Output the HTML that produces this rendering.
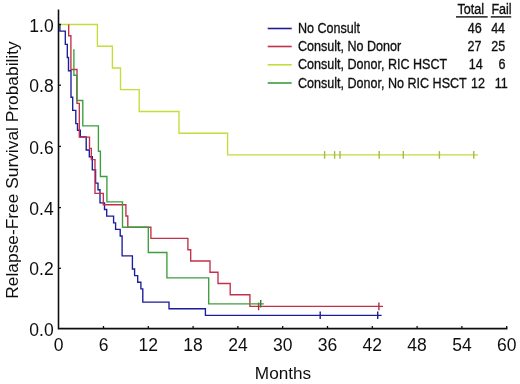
<!DOCTYPE html>
<html><head><meta charset="utf-8"><style>
html,body{margin:0;padding:0;background:#fff;}
svg{display:block;}
.t{font-family:"Liberation Sans", sans-serif;font-size:17.5px;fill:#111;}
.l{font-family:"Liberation Sans", sans-serif;font-size:15.5px;fill:#111;stroke:#111;stroke-width:0.35px;}
</style></head><body>
<svg width="520" height="384" viewBox="0 0 520 384" shape-rendering="geometricPrecision">
<defs><filter id="b" x="0" y="0" width="1" height="1"><feGaussianBlur stdDeviation="0.3"/></filter></defs>
<rect width="520" height="384" fill="#fff"/>
<g filter="url(#b)">
<path d="M58.5,24.5 H97.4 V46.2 H112.4 V68.0 H120.5 V89.6 H139.2 V111.5 H179.0 V133.2 H227.6 V154.9 H478" stroke="#c6dc3a" stroke-width="1.35" fill="none"/>
<path d="M324.6,151.1 V158.7" stroke="#a6b94c" stroke-width="1.4"/><path d="M334.6,151.1 V158.7" stroke="#a6b94c" stroke-width="1.4"/><path d="M340.0,151.1 V158.7" stroke="#a6b94c" stroke-width="1.4"/><path d="M379.2,151.1 V158.7" stroke="#a6b94c" stroke-width="1.4"/><path d="M403.3,151.1 V158.7" stroke="#a6b94c" stroke-width="1.4"/><path d="M439.4,151.1 V158.7" stroke="#a6b94c" stroke-width="1.4"/><path d="M473.8,151.1 V158.7" stroke="#a6b94c" stroke-width="1.4"/>
<path d="M59.9,24.5 H59.9 V31.1 H65.3 V44.3 H67.3 V57.5 H68.5 V70.7 H71.0 V97.2 H72.7 V110.4 H75.8 V123.6 H77.5 V130.2 H80.3 V136.8 H86.2 V150.0 H89.3 V156.7 H92.3 V169.9 H95.6 V183.1 H98.0 V189.7 H100.0 V202.9 H104.5 V209.5 H106.7 V216.1 H113.6 V222.8 H115.6 V229.4 H120.2 V236.0 H122.1 V255.8 H132.4 V269.0 H134.6 V275.6 H137.7 V282.2 H140.9 V288.8 H142.8 V302.1 H169.0 V308.7 H205.4 V315.3 H381.6" stroke="#1b1b9c" stroke-width="1.35" fill="none"/>
<path d="M320.2,311.5 V319.1" stroke="#1b1b9c" stroke-width="1.4"/><path d="M377.7,311.5 V319.1" stroke="#1b1b9c" stroke-width="1.4"/>
<path d="M68.7,24.5 H68.7 V35.7 H70.9 V69.5 H77.0 V103.3 H79.3 V137.1 H89.5 V148.4 H91.3 V159.6 H95.0 V193.4 H103.3 V204.7 H125.9 V216.0 H127.8 V227.2 H150.9 V238.4 H187.9 V249.7 H190.7 V261.0 H210.0 V272.2 H218.0 V283.5 H230.2 V294.7 H249.9 V306.4 H383" stroke="#c0304a" stroke-width="1.35" fill="none"/>
<path d="M258.6,302.6 V310.2" stroke="#a83040" stroke-width="1.4"/><path d="M378.9,302.6 V310.2" stroke="#a83040" stroke-width="1.4"/>
<path d="M73.9,49.3 V75.2 H76.7 V100.5 H82.8 V125.8 H98.4 V151.2 H100.4 V176.5 H106.9 V201.8 H122.5 V227.2 H148.3 V252.5 H166.9 V277.8 H208.7 V303.8 H263.8" stroke="#3c9e3c" stroke-width="1.35" fill="none"/>
<path d="M260.7,300.0 V307.6" stroke="#2f7f2f" stroke-width="1.4"/>
<path d="M58.5,9.5 V328.6 H507.4" stroke="#111" stroke-width="1.55" fill="none"/>
<path d="M58.5,24.4 H61" stroke="#111" stroke-width="1.3"/>
<path d="M58.5,85.2 H61" stroke="#111" stroke-width="1.3"/>
<path d="M58.5,146.4 H61" stroke="#111" stroke-width="1.3"/>
<path d="M58.5,207.6 H61" stroke="#111" stroke-width="1.3"/>
<path d="M58.5,268.3 H61" stroke="#111" stroke-width="1.3"/>
<path d="M103.50,328.6 V326" stroke="#111" stroke-width="1.3"/>
<path d="M148.30,328.6 V326" stroke="#111" stroke-width="1.3"/>
<path d="M193.10,328.6 V326" stroke="#111" stroke-width="1.3"/>
<path d="M237.90,328.6 V326" stroke="#111" stroke-width="1.3"/>
<path d="M282.70,328.6 V326" stroke="#111" stroke-width="1.3"/>
<path d="M327.50,328.6 V326" stroke="#111" stroke-width="1.3"/>
<path d="M372.30,328.6 V326" stroke="#111" stroke-width="1.3"/>
<path d="M417.10,328.6 V326" stroke="#111" stroke-width="1.3"/>
<path d="M461.90,328.6 V326" stroke="#111" stroke-width="1.3"/>
<path d="M506.70,328.6 V326" stroke="#111" stroke-width="1.3"/>
<text x="53.7" y="31.5" text-anchor="end" class="t">1.0</text>
<text x="53.7" y="92.3" text-anchor="end" class="t">0.8</text>
<text x="53.7" y="153.5" text-anchor="end" class="t">0.6</text>
<text x="53.7" y="214.7" text-anchor="end" class="t">0.4</text>
<text x="53.7" y="275.4" text-anchor="end" class="t">0.2</text>
<text x="53.7" y="335.7" text-anchor="end" class="t">0.0</text>
<text x="58.70" y="350.9" text-anchor="middle" class="t">0</text>
<text x="103.50" y="350.9" text-anchor="middle" class="t">6</text>
<text x="148.30" y="350.9" text-anchor="middle" class="t">12</text>
<text x="193.10" y="350.9" text-anchor="middle" class="t">18</text>
<text x="237.90" y="350.9" text-anchor="middle" class="t">24</text>
<text x="282.70" y="350.9" text-anchor="middle" class="t">30</text>
<text x="327.50" y="350.9" text-anchor="middle" class="t">36</text>
<text x="372.30" y="350.9" text-anchor="middle" class="t">42</text>
<text x="417.10" y="350.9" text-anchor="middle" class="t">48</text>
<text x="461.90" y="350.9" text-anchor="middle" class="t">54</text>
<text x="506.70" y="350.9" text-anchor="middle" class="t">60</text>
<text x="283" y="379.2" text-anchor="middle" class="t" style="font-size:17.2px">Months</text>
<text transform="translate(18.3,170) rotate(-90)" text-anchor="middle" class="t" style="font-size:17.35px">Relapse-Free Survival Probability</text>
<path d="M267.7,28.5 H291.7" stroke="#1b1b9c" stroke-width="1.6"/>
<text transform="translate(298,33.1) scale(0.81,1)" class="l">No Consult</text>
<path d="M267.7,46.5 H291.7" stroke="#c0304a" stroke-width="1.6"/>
<text transform="translate(298,51.1) scale(0.81,1)" class="l">Consult, No Donor</text>
<path d="M267.7,64.8 H291.7" stroke="#c6dc3a" stroke-width="1.6"/>
<text transform="translate(298,69.3) scale(0.81,1)" class="l">Consult, Donor, RIC HSCT</text>
<path d="M267.7,83.0 H291.7" stroke="#3c9e3c" stroke-width="1.6"/>
<text transform="translate(298,87.6) scale(0.81,1)" class="l">Consult, Donor, No RIC HSCT</text>
<text transform="translate(457.6,14.4) scale(0.81,1)" class="l">Total</text>
<text transform="translate(491.4,14.4) scale(0.81,1)" class="l">Fail</text>
<rect x="456" y="16.2" width="31.7" height="1.4" fill="#111"/>
<rect x="490.8" y="16.2" width="20.4" height="1.4" fill="#111"/>
<text transform="translate(481.7,33.1) scale(0.81,1)" text-anchor="end" class="l">46</text>
<text transform="translate(505.1,33.1) scale(0.81,1)" text-anchor="end" class="l">44</text>
<text transform="translate(481.5,51.0) scale(0.81,1)" text-anchor="end" class="l">27</text>
<text transform="translate(505.2,51.0) scale(0.81,1)" text-anchor="end" class="l">25</text>
<text transform="translate(482.8,69.3) scale(0.81,1)" text-anchor="end" class="l">14</text>
<text transform="translate(505.5,69.3) scale(0.81,1)" text-anchor="end" class="l">6</text>
<text transform="translate(485.0,87.6) scale(0.81,1)" text-anchor="end" class="l">12</text>
<text transform="translate(507.7,87.6) scale(0.81,1)" text-anchor="end" class="l">11</text>
</g>
</svg>
</body></html>
